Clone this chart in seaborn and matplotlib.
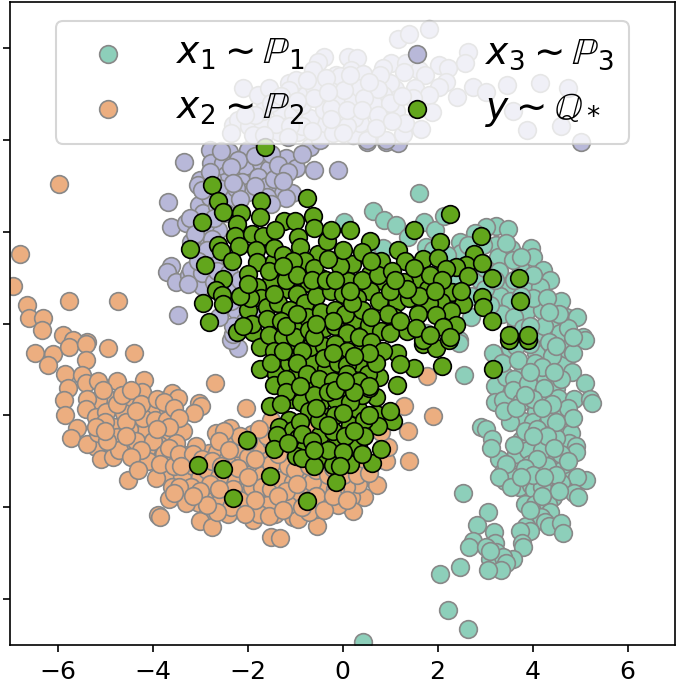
import pandas as pd
import matplotlib
matplotlib.use('Agg')
import matplotlib.pyplot as plt
import seaborn as sns

# Points (x, y)
p1_points = [
    (1.61,2.84),(.64,2.45),(.87,2.25),(1.12,2.15),(1.38,1.89),(1.71,2.22),(1.94,2.04),(2.13,2.33),(3.24,2.13),(3.48,2.06),
    (3.03,2.11),(2.48,1.78),(2.78,1.96),(3.24,1.7),(3.55,1.63),(3.97,1.64),(3.27,1.45),(4.0,1.45),(4.22,1.17),(4.36,.95),
    (3.76,1.17),(3.59,1.38),(3.87,.87),(4.15,.8),(3.45,.8),(3.31,.6),(3.52,.49),(3.87,.24),(4.2,.29),(4.6,.5),
    (4.43,.04),(4.71,.15),(4.94,.15),(5.06,-.29),(3.66,0.0),(4.08,-.21),(4.57,-.21),(2.71,.15),(2.89,.95),(2.67,1.38),
    (2.5,1.53),(1.76,1.67),(.85,1.64),(.5,1.53),(.04,2.22),(1.76,-.21),(2.46,-.36),(2.46,-.43),(2.55,-1.12),(3.16,-.65),
    (3.2,-1.35),(3.2,-1.72),(3.38,-1.67),(3.45,-1.16),(3.52,-.54),(4.08,-.65),(3.76,-1.12),(3.62,-1.2),(3.59,-1.45),(3.76,-1.7),
    (4.26,-1.16),(4.64,-.87),(4.73,-.56),(5.1,-.36),(4.85,-.65),(4.83,-1.06),(5.1,-1.3),(4.5,-1.41),(4.15,-1.52),(4.27,-1.65),
    (4.53,-1.63),(4.87,-1.65),(5.2,-1.65),(5.26,-1.74),(4.41,-1.94),(4.62,-1.97),(4.08,-1.92),(3.8,-2.12),(3.53,-2.14),(4.01,-2.14),
    (4.29,-2.21),(4.6,-2.32),(4.81,-2.39),(3.76,-2.54),(3.95,-2.6),(4.15,-2.52),(4.77,-2.61),(4.92,-2.67),(4.91,-2.79),(4.36,-2.83),
    (4.43,-2.97),(3.99,-2.92),(3.69,-3.1),(4.64,-3.16),(4.15,-3.16),(3.29,-2.95),(3.38,-3.24),(3.43,-3.42),(2.92,-2.25),(3.03,-2.3),
    (3.14,-2.52),(3.13,-2.7),(3.87,-3.34),(4.11,-3.39),(4.38,-3.36),(4.81,-3.41),(5.13,-3.41),(4.93,-3.35),(3.71,-3.57),(3.97,-3.52),
    (4.04,-3.63),(4.43,-3.56),(4.6,-3.48),(4.87,-3.69),(4.96,-3.77),(4.43,-3.77),(3.85,-3.93),(4.06,-3.93),(4.32,-3.92),(2.53,-3.7),
    (3.06,-4.1),(4.36,-4.1),(4.18,-4.21),(4.27,-4.32),(4.34,-4.4),(4.6,-4.35),(4.64,-4.56),(2.83,-4.39),(3.19,-4.54),(3.87,-4.41),
    (3.94,-4.51),(3.74,-4.51),(2.74,-4.73),(2.67,-4.86),(3.2,-4.79),(3.03,-4.86),(3.78,-4.77),(3.8,-4.86),(3.24,-4.97),(3.1,-5.12),
    (3.59,-5.12),(3.38,-5.08),(3.45,-5.22),(3.34,-5.37),(3.06,-5.37),(2.48,-5.31),(2.06,-5.46),(2.22,-6.24),(2.64,-6.66),(.44,-6.93),
    # dense part of the arc
    (3.35,.2),(3.6,.15),(4.0,.55),(4.3,.55),(3.75,.6),(3.1,.4),(3.0,1.2),(3.3,1.15),(2.3,.9),(1.9,1.6),
    (3.8,-.1),(4.25,-.05),(4.75,-.1),(3.95,-.45),(4.35,-.4),(3.65,-.5),(3.35,-.85),(3.7,-.8),(4.05,-.85),(4.4,-.7),
    (3.9,-1.3),(4.25,-1.4),(4.6,-1.2),(3.4,-1.9),(3.65,-1.85),(4.0,-1.65),(4.75,-1.85),(4.35,-2.05),(3.85,-2.35),(4.1,-2.3),
    (4.5,-2.5),(3.65,-2.85),(3.9,-2.75),(4.2,-2.75),(4.6,-2.85),(3.95,-3.05),(4.3,-3.1),(3.6,-3.35),(4.5,-3.3),(4.2,-3.55),
    (2.7,.6),(3.0,.75),(3.2,.95),(3.6,.95),(4.0,1.05),(3.75,1.45),(3.45,1.75),(2.95,1.7),(2.65,1.7),(2.2,1.5),
    (3.95,-.05),(4.55,.2),(4.35,.25),(4.85,-.3),(4.5,-.5),(4.2,-.95),(4.45,-1.05),(3.95,-1.05),(3.85,-1.55),(4.4,-1.75),
    (4.2,-1.85),(4.85,-2.05),(4.5,-2.15),(4.3,-2.45),(4.0,-2.45),(4.45,-2.7),(4.75,-3.0),(4.1,-2.95),(3.85,-3.15),(4.0,-3.3),
    (4.25,-3.35),(4.55,-3.65),(4.2,-3.75),(3.6,-2.65),(3.45,-3.05),(3.3,-3.35),(3.55,-3.55),(3.75,-3.35),(3.95,-4.05),(3.1,-4.95),
]
p2_points = [
    (-5.97,3.04),(-6.79,1.51),(-6.93,.82),(-6.64,.4),(-6.59,.13),(-6.31,.13),(-5.76,.49),(-4.73,.49),(-6.33,-.14),(-5.89,-.25),
    (-5.38,-.4),(-5.68,-.36),(-6.48,-.64),(-6.1,-.66),(-6.19,-.9),(-5.75,-.52),(-5.41,-.45),(-5.41,-.8),(-4.94,-.54),(-4.39,-.65),
    (-5.85,-1.09),(-5.48,-1.12),(-5.4,-1.3),(-5.78,-1.4),(-5.87,-1.67),(-4.75,-1.25),(-4.17,-1.23),(-4.22,-1.49),(-4.98,-1.6),(-5.15,-1.67),
    (-5.38,-1.65),(-4.45,-1.69),(-3.59,-1.51),(-3.47,-1.63),(-2.69,-1.3),(-3.03,-1.74),(-2.98,-1.79),(-3.12,-1.94),(-3.77,-1.92),(-2.04,-1.83),
    (-4.03,-1.85),(-5.85,-2.0),(-5.4,-1.86),(-5.19,-2.03),(-4.79,-2.26),(-4.37,-2.1),(-4.98,-1.92),(-5.6,-2.28),(-5.71,-2.5),(-4.18,-2.39),
    (-3.63,-2.45),(-3.36,-2.34),(-3.87,-2.65),(-4.54,-2.67),(-5.19,-2.68),(-5.37,-2.63),(-5.08,-2.94),(-4.84,-2.9),(-4.24,-3.03),(-3.33,-2.87),
    (-2.81,-2.83),(-3.08,-2.67),(-2.66,-2.39),(-2.36,-2.28),(-3.71,-3.3),(-3.92,-3.37),(-3.38,-3.32),(-4.51,-3.41),(-3.31,-3.66),(-3.66,-3.82),
    (-3.02,-3.9),(-2.83,-3.77),(-3.89,-4.17),(-3.84,-4.21),(-2.88,-4.22),(-3.01,-4.3),(-2.75,-4.43),(-2.41,-4.14),(-2.03,-3.52),(-2.11,-3.3),
    (-2.27,-3.01),(-1.99,-4.0),(-1.89,-4.28),(-1.43,-4.15),(-1.26,-3.71),(-1.05,-4.21),(-.94,-4.25),(-1.5,-4.64),(-1.31,-4.66),(-.54,-4.41),
    (-.55,-4.03),(-.82,-3.59),(-.84,-3.23),(-.31,-3.92),(-.45,-3.53),(-1.26,-2.94),(-1.71,-2.87),(-1.5,-2.1),(-.69,-2.23),(-1.92,-3.16),
    (-1.78,-3.77),(-2.59,-3.63),(-4.13,-2.76),(-4.74,-2.47),(-5.14,-2.39),(1.78,-1.14),(1.9,-2.01),(1.29,-1.8),(1.38,-2.34),(1.41,-3.0),
    (.73,-3.52),(.92,-3.0),(.95,-2.68),(.46,-3.77),(.18,-3.77),(.22,-4.09),(.32,-3.5),(.08,-3.55),(.81,-2.36),(.43,-3.05),
    # dense part of the arc
    (-5.0,-2.15),(-4.6,-1.95),(-4.75,-1.75),(-4.5,-2.3),(-4.2,-2.05),(-3.95,-2.1),(-3.7,-2.1),(-4.35,-2.55),(-4.7,-2.75),(-4.95,-2.55),
    (-4.0,-2.55),(-3.75,-2.85),(-3.5,-2.6),(-4.1,-3.0),(-3.85,-3.05),(-3.55,-3.1),(-3.15,-3.1),(-3.0,-3.35),(-3.2,-3.55),(-2.85,-3.2),
    (-2.65,-2.8),(-2.45,-2.6),(-2.2,-2.7),(-2.45,-3.0),(-2.3,-3.3),(-2.6,-3.35),(-2.8,-3.5),(-3.0,-3.65),(-2.55,-3.85),(-2.3,-3.6),
    (-2.15,-3.85),(-2.35,-4.0),(-2.65,-4.1),(-1.9,-3.55),(-1.7,-3.3),(-1.5,-3.05),(-1.7,-3.55),(-1.5,-3.6),(-1.6,-3.95),(-1.75,-4.15),
    (-1.3,-3.4),(-1.15,-3.1),(-1.05,-3.45),(-.95,-3.8),(-1.15,-3.95),(-.7,-3.85),(-.65,-3.45),(-.55,-3.2),(-.3,-3.3),(-.15,-3.6),
    (-.1,-3.95),(-.55,-3.75),(-.2,-3.15),(.0,-3.3),(-1.9,-2.4),(-1.75,-2.65),(-1.5,-2.55),(-1.25,-2.65),(-2.0,-2.9),(-1.2,-2.2),
    (-5.15,-1.25),(-5.05,-1.45),(-4.65,-1.55),(-4.45,-1.45),(-4.25,-1.75),(-5.2,-2.25),(-5.0,-2.35),(-4.55,-2.15),(-4.35,-1.9),(-3.9,-1.65),
    (-3.75,-1.7),(-3.55,-1.85),(-3.45,-2.05),(-3.65,-2.25),(-3.9,-2.3),(-4.55,-2.45),(-4.25,-2.75),(-4.45,-2.9),(-4.3,-3.2),(-3.65,-2.7),
    (-3.45,-2.85),(-3.15,-2.85),(-2.95,-2.95),(-3.6,-3.55),(-3.4,-3.1),(-3.45,-3.55),(-2.75,-3.0),(-2.55,-3.1),(-2.85,-3.95),(-2.6,-3.6),
    (-2.2,-3.15),(-2.0,-3.35),(-2.15,-2.45),(-1.85,-2.95),(-1.6,-2.45),(-1.35,-2.85),(-1.2,-3.65),(-1.35,-3.75),(-1.85,-3.85),(-2.05,-4.15),
    (-1.55,-4.2),(-1.25,-4.05),(-1.0,-3.2),(-.7,-3.1),(-.95,-3.5),(-.7,-4.1),(-.85,-4.0),(-.4,-4.05),(-.2,-3.75),(.1,-3.85),
    (-3.3,-3.9),(-3.15,-3.75),(-3.55,-3.7),(-2.5,-2.35),(-2.6,-2.55),(-2.4,-2.75),(-2.0,-2.55),(-1.75,-2.3),(.3,-3.3),(.55,-3.25),
]
p3_points = [
    (-3.34,3.51),(-3.68,2.65),(-3.62,2.11),(-3.29,2.18),(-3.61,1.26),(-3.69,1.13),(-3.5,.91),(-3.24,1.06),(-2.96,.82),(-3.47,.19),
    (-2.79,3.78),(-2.38,3.74),(-1.99,3.78),(-2.76,3.49),(-2.52,3.49),(-2.05,3.42),(-1.71,3.49),(-1.54,3.37),(-1.18,3.6),(-.98,3.38),
    (-.6,3.34),(-.69,3.85),(-3.0,3.13),(-3.04,3.02),(-2.45,3.23),(-2.48,3.09),(-2.11,3.09),(-1.77,3.2),(-1.35,2.84),(-1.07,2.85),
    (-1.18,2.73),(-3.03,2.58),(-2.94,2.4),(-2.38,2.69),(-1.99,2.87),(-3.22,2.29),(-2.94,1.78),(-3.19,1.78),(-2.62,2.04),(-2.87,1.38),
    (-3.19,1.17),(-2.73,1.31),(-2.26,.8),(-2.06,.62),(-2.24,.29),(-.1,3.34),(5.03,3.96),(.52,3.96),(.92,3.96),(1.17,3.94),
    (-2.19,-.54),(-2.34,-.36),(-2.31,-.22),(-2.75,3.15),(-2.6,2.95),(-2.25,2.95),(-1.6,3.0),(-1.45,3.15),(-2.8,2.75),(-2.65,2.55),
    (-2.9,2.15),(-2.75,1.85),(-2.95,1.1),(-3.0,1.55),(-2.7,.9),
    (-2.55,3.75),(-2.2,3.55),(-2.35,3.4),(-1.85,3.65),(-1.5,3.7),(-1.35,3.45),(-1.15,3.3),(-.85,3.7),(-1.25,3.1),(-1.6,2.75),
    (-1.85,3.0),(-1.5,2.6),(-2.15,2.7),(-2.8,3.3),(-2.3,3.05),(-2.95,2.9),(-2.7,2.3),(-2.45,2.4),(-3.1,1.95),(-2.85,1.6),
    (-3.05,1.35),(-2.65,1.15),(-3.25,.85),(-2.4,1.1),(-2.15,.95),(-2.35,.5),(-1.85,.35),(-2.05,.05),(-2.3,-.05),(-2.6,.15),
    # under the legend
    (-2.1,5.12),(-1.78,4.98),(-1.54,5.12),(-1.12,5.23),(-.38,5.81),(-.52,5.7),(-.63,5.52),(-.98,5.3),(-1.12,5.09),(-.77,4.98),
    (-.38,4.91),(-.13,5.42),(-.17,5.12),(-.59,5.16),(-2.31,4.32),(-2.2,4.43),(-1.96,4.29),(-1.68,4.32),(-1.29,4.65),(-1.89,4.11),
    (-1.33,4.18),(-.94,4.18),(-.42,4.29),(-.13,4.4),(-.69,4.47),(-1.04,4.58),(-1.68,4.62),(-2.34,4.14),(-.48,4.0),(1.83,6.41),
    (1.17,6.2),(1.4,6.31),(2.64,5.91),(2.57,5.68),(2.04,5.62),(2.22,5.56),(1.03,5.67),(.85,5.56),(1.34,5.67),(1.62,5.52),
    (1.73,5.41),(1.29,5.47),(.11,5.81),(.3,5.78),(.18,5.52),(.43,5.43),(-.06,5.38),(2.18,5.25),(2.04,5.15),(1.52,5.13),
    (1.1,5.11),(1.0,5.23),(.78,5.41),(2.74,5.15),(3.03,5.03),(3.47,5.2),(4.15,5.23),(4.74,5.12),(2.41,4.94),(1.83,4.98),
    (1.48,4.91),(.85,4.98),(.57,4.67),(1.13,4.62),(1.89,4.6),(3.59,4.63),(4.59,4.31),(3.88,4.22),(1.66,4.24),(1.27,4.13),
    (1.31,4.36),(.22,4.11),(.51,4.0),(.92,4.0),(.36,4.36),(.25,4.47),(-.06,4.51),(-.03,4.87),(.22,4.87),(.36,5.13),
    (.64,4.8),(.04,5.09),(.74,5.1),(-.85,4.75),(-.4,4.65),(-.6,4.9),(-.25,4.7),(-1.4,4.35),(-.85,4.3),(-.2,4.15),
    (.1,4.3),(.1,4.65),(.45,4.9),(1.0,4.8),(1.25,4.95),
    (-1.5,4.8),(-1.3,4.95),(-.95,4.85),(-.75,5.3),(-.35,5.35),(-.3,5.05),(.15,5.4),(.55,5.25),(-1.85,4.55),(-1.1,4.3),
    (-.65,4.2),(-.25,4.45),(.0,4.15),(-1.65,4.1),(-1.15,4.05),(-2.05,4.55),(.4,4.65),(.75,4.55),(.7,4.25),(1.05,4.4),
]
y_points = [
    (-1.63,3.85),(-2.75,3.02),(-2.62,2.67),(-2.52,2.42),(-2.96,2.2),(-1.71,2.67),(-.74,2.73),(-2.13,2.4),(-1.73,2.31),(-1.24,2.23),
    (-1.01,2.24),(-.62,2.35),(-.59,2.07),(-2.22,2.17),(-2.26,1.91),(-1.9,1.94),(-1.68,1.91),(-1.43,2.04),(-2.18,1.69),(-2.62,1.71),
    (-3.21,1.62),(-2.56,1.57),(-1.82,1.6),(-2.9,1.27),(-2.33,1.35),(-1.79,1.33),(-1.45,1.33),(-.94,1.88),(-.9,1.66),(-.52,1.51),
    (-.33,1.79),(-.25,2.04),(-.8,1.37),(-1.99,1.07),(-2.52,.97),(-1.16,1.06),(-1.5,.93),(-1.8,.79),(-.45,1.0),(-.71,.89),
    (-2.67,.73),(-2.54,.62),(-2.93,.44),(-2.52,.42),(-1.71,.55),(-2.0,.29),(-2.81,.03),(-2.22,-.18),(-1.89,-.19),(-1.73,-.52),
    (-1.73,-1.0),(-1.4,-1.11),(-1.13,-.85),(-1.01,-1.14),(-.62,-.85),(-.68,-.52),(-1.06,-.61),(-.34,-1.0),(-.75,-1.38),(-1.45,-1.34),
    (-1.06,-1.65),(-.88,-1.7),(-1.52,-1.8),(-.47,-1.74),(-.13,-1.67),(-.34,-2.03),(-1.13,-2.1),(-1.33,-2.25),(-1.05,-2.32),(-1.38,-2.43),
    (-.47,-2.43),(-.93,-2.49),(-.78,-2.7),(-1.45,-2.74),(-.97,-2.89),(-.85,-2.92),(-.45,-2.92),(-.13,-2.65),(-.2,-3.08),(-.13,-3.45),
    (-2.01,-2.54),(-3.04,-3.09),(-2.52,-3.16),(-1.52,-3.32),(-2.31,-3.8),(-.75,-3.87),(.16,-3.05),(.62,-3.03),(.81,-2.73),(.2,-2.55),
    (.32,-2.67),(1.06,-2.12),(.71,-1.97),(1.0,-1.91),(.15,-2.2),(.32,-1.87),(.74,-2.23),(.7,-1.59),(1.14,-1.33),(.77,-1.17),
    (.09,-1.41),(.41,-1.56),(.32,-.85),(.53,-1.1),(1.5,-.96),(2.09,-.93),(1.15,-.65),(.41,-.48),(1.69,-.45),(1.97,-.54),
    (2.25,-.36),(1.22,-.88),(3.16,-1.0),(3.5,-.36),(3.9,-.36),(2.27,2.39),(.16,2.04),(1.5,2.04),(.58,1.79),(2.06,1.78),
    (2.92,1.91),(1.17,1.59),(2.77,1.51),(.81,1.36),(1.31,1.36),(1.69,1.4),(2.01,1.42),(.2,1.29),(2.59,1.28),(2.93,1.31),
    (.58,1.08),(2.39,1.22),(2.17,1.18),(3.15,1.0),(3.71,.98),(2.64,1.03),(1.64,.96),(.85,.93),(1.29,.9),(.11,.93),
    (1.8,.75),(2.31,.68),(.57,.71),(2.93,.57),(3.74,.49),(.77,.49),(1.14,.46),(2.53,.43),(2.08,.46),(1.83,.44),
    (2.96,.37),(2.29,.27),(1.59,.2),(1.08,.15),(1.97,.19),(3.15,.05),(.25,.08),(.55,-.03),(2.39,-.03),(2.11,-.07),
    (1.36,-.16),(.81,-.16),(2.27,-.29),(3.5,-.25),(3.9,-.25),(1.69,-.36),
    # centre of the cloud
    (-1.45,1.65),(-1.25,1.5),(-1.05,1.35),(-1.2,.75),(-.95,.65),(-1.6,.35),(-1.35,.45),(-1.1,.3),(-.8,.45),(-.55,.6),
    (-.25,.7),(-.05,1.25),(.0,.65),(.3,.55),(.4,.95),(-1.9,.0),(-1.6,.1),(-1.3,.05),(-1.0,.0),(-.75,.15),
    (-.45,.25),(-.15,.3),(.05,.2),(.4,.3),(-1.55,-.25),(-1.25,-.3),(-1.0,-.3),(-.7,-.15),(-.4,-.1),(-.15,-.05),
    (.1,-.2),(.35,-.3),(.6,-.4),(.85,-.6),(1.0,-.2),(-1.45,-.6),(-.85,-.6),(-.4,-.5),(-.15,-.45),(.1,-.6),
    (-1.5,-.85),(-.95,-.85),(-.4,-.75),(-.1,-.85),(.1,-.9),(.7,-.85),(-1.2,-1.2),(-.75,-1.1),(-.5,-1.2),(-.2,-1.25),
    (.1,-1.1),(.35,-1.25),(-1.2,-1.5),(-.6,-1.55),(-.3,-1.5),(.15,-1.7),(.55,-1.4),(-1.3,-1.75),(-.7,-1.9),(-.5,-2.1),
    (-.15,-2.0),(.0,-1.95),(.45,-2.1),(-.9,-2.15),(-.2,-2.35),(.05,-2.45),(.45,-2.45),(-.3,-2.75),(.0,-2.8),(-.6,-3.1),
    (-.05,-3.1),(.4,-2.85),(-1.2,.95),(-.95,1.05),(-.6,1.2),(-.3,1.4),(.0,1.6),(.4,1.55),(.75,1.05),(1.0,.7),
    (1.4,.55),(1.6,.6),(.95,.2),(1.2,.05),(1.55,-.1),(1.85,-.25),(-1.95,.55),(-2.15,.6),(-2.0,.85),(-1.45,.65),
    (1.85,1.05),(2.1,.95),(1.95,.7),(2.5,.7),(1.5,1.2),(1.05,1.15),(.6,1.35),(-1.55,1.15),(-1.25,1.25),(-2.1,-.05),
    (-.65,.95),(-.35,.95),(.2,.45),(.6,.15),(-.2,.05),(-1.2,-.05),(-.6,-.3),(.55,-.65),(-.2,-.65),(-1.25,-.6),
    (.25,-.7),(.55,-1.35),(-.9,-1.35),(.25,-1.5),(-.15,-1.45),(-.55,-1.85),(-.85,-2.4),(-.65,-2.55),(.25,-2.35),(-.3,-2.2),
    (.55,-2.0),(-1.15,-2.6),(-.6,-2.75),(.05,-1.25),(1.35,.75),(1.1,.95),(.15,.7),(-.15,.95),(-.95,.2),(-.55,.0),
]

labels = [r'$x_1 \sim \mathbb{P}_1$', r'$x_2 \sim \mathbb{P}_2$', r'$x_3 \sim \mathbb{P}_3$', r'$y \sim \mathbb{Q}_*$']
colors = ['#8dcfba', '#ecae80', '#b8b8d9', '#62a61c']
edges = ['#888888', '#888888', '#888888', 'black']
x_ticks = [-6, -4, -2, 0, 2, 4, 6]
y_ticks = [-6, -4, -2, 0, 2, 4, 6]

plt.rcParams['mathtext.fontset'] = 'dejavusans'

fig, ax = plt.subplots(figsize=(677 / 150, 686 / 150), dpi=150)
fig.subplots_adjust(left=10 / 677, right=675 / 677, top=1 - 2 / 686, bottom=1 - 645 / 686)

all_points = [p1_points, p2_points, p3_points, y_points]
for pts, lab, col, edge in zip(all_points, labels, colors, edges):
    df = pd.DataFrame(pts, columns=['x', 'y'])
    sns.scatterplot(data=df, x='x', y='y', ax=ax, s=72, color=col, edgecolor=edge, linewidth=0.8, label=lab)

ax.set_xlim(-7, 7)
ax.set_ylim(-7, 7)
ax.set_xticks(x_ticks)
ax.set_yticks(y_ticks)
ax.set_yticklabels([])
ax.set_xlabel('')
ax.set_ylabel('')
ax.tick_params(axis='x', labelsize=12)
ax.legend(loc='upper center', ncol=2, fontsize=18)

fig.savefig('out.png', dpi=150)
